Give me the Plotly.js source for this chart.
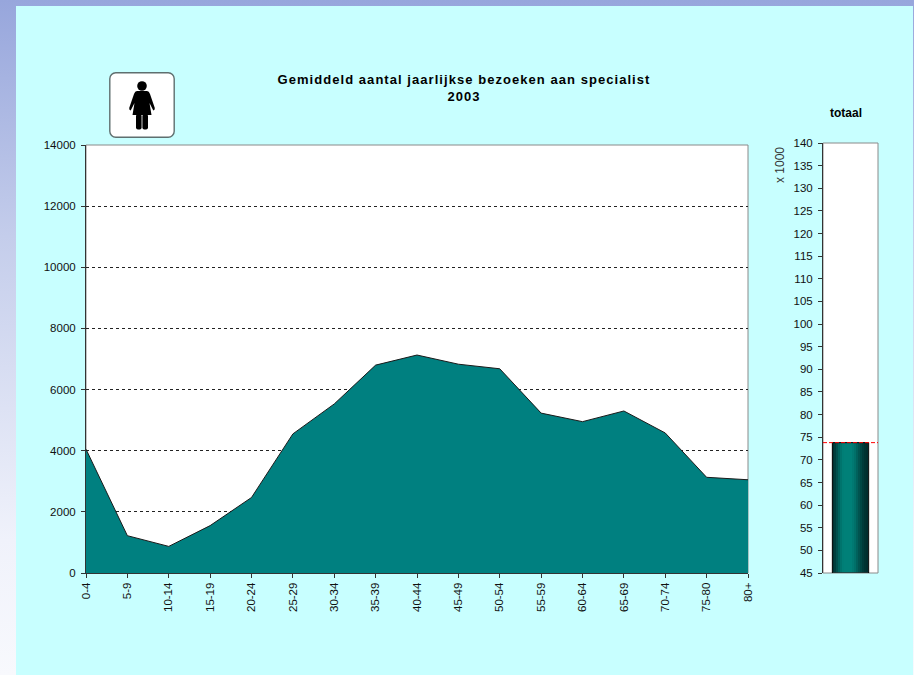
<!DOCTYPE html>
<html>
<head>
<meta charset="utf-8">
<script src="https://cdn.plot.ly/plotly-3.0.1.min.js"></script>
<style>
html,body{margin:0;padding:0;width:914px;height:675px;overflow:hidden;background:linear-gradient(to bottom,#97a6dc 0%,#c4cdeb 35%,#f0f2fb 80%,#f8f9fd 100%);}
#chart{position:absolute;left:16px;top:6px;width:897px;height:669px;}
.gtitle{letter-spacing:1.05px;}
</style>
</head>
<body>
<div id="chart"></div>
<script>
var ageGroups = ["0-4","5-9","10-14","15-19","20-24","25-29","30-34","35-39","40-44","45-49","50-54","55-59","60-64","65-69","70-74","75-80","80+"];
var visits = [4050,1220,870,1550,2470,4550,5530,6800,7130,6830,6680,5230,4950,5300,4580,3130,3050];
var totalLabel = "totaal";
var totalThousands = 73.8;
var leftTicks = [0,2000,4000,6000,8000,10000,12000,14000];
var rightTicks = [45,50,55,60,65,70,75,80,85,90,95,100,105,110,115,120,125,130,135,140];
var titleText = "Gemiddeld aantal jaarlijkse bezoeken aan specialist<br>2003";

var W = 897, H = 669, OX = 16, OY = 6;
function px(x){ return (x-OX)/W; }
function py(y){ return 1-(y-OY)/H; }

var barHalf = 0.33;
var shades = [0.05,0.2,0.42,0.65,0.85,0.97,1,1,1,1,0.92,0.8,0.62,0.45,0.3,0.16,0.06,0];
var gradEdges = shades.map(function(s,i){ return -barHalf + 2*barHalf*i/shades.length; });
gradEdges.push(barHalf);

var font = "'Liberation Sans', Arial, sans-serif";
var tickFont = {family:font, size:11.5, color:"#111"};
var iconSvg = '<svg xmlns="http://www.w3.org/2000/svg" width="66" height="66" viewBox="0 0 66 66">'
 + '<rect x="0.8" y="0.8" width="64.4" height="64.4" rx="6" fill="#fff" stroke="#5f6f6f" stroke-width="1.4"/>'
 + '<g fill="#000"><circle cx="33" cy="14" r="4.8"/>'
 + '<path d="M28 19 H38 Q40 19 41 22 L45.8 36 Q46 38 44.3 38.5 L40.5 31 L42.5 43 H23.5 L25.5 31 L21.7 38.5 Q20 38 20.2 36 L25 22 Q26 19 28 19 Z"/>'
 + '<rect x="27" y="42" width="5.6" height="15.5" rx="2"/><rect x="33.4" y="42" width="5.6" height="15.5" rx="2"/></g></svg>';

var traces = [
  {type:"scatter", mode:"lines", x:ageGroups, y:visits, fill:"tozeroy", fillcolor:"#008080",
   line:{color:"#1a1a1a", width:1}, xaxis:"x", yaxis:"y", hoverinfo:"x+y", showlegend:false},
  {type:"heatmap", x:gradEdges, y:[45,totalThousands], z:[shades], xaxis:"x2", yaxis:"y2", showscale:false, hoverinfo:"skip",
   zmin:0, zmax:1, colorscale:[[0,"#012e2e"],[1,"#008078"]]},
  {type:"bar", x:[0], y:[totalThousands-45], base:[45], width:[2*barHalf], xaxis:"x2", yaxis:"y2", showlegend:false,
   marker:{color:"rgba(0,0,0,0)", line:{color:"#000", width:1}}, name:totalLabel}
];

var layout = {
  width:W, height:H, autosize:false,
  margin:{l:0,r:0,t:0,b:0},
  paper_bgcolor:"#c8ffff", plot_bgcolor:"#ffffff",
  font:{family:font, size:11, color:"#111"},
  showlegend:false,
  title:{text:titleText, font:{family:font, size:13, color:"#000", weight:"bold"}, x:px(464), xanchor:"center", xref:"paper", y:py(84), yanchor:"middle", yref:"container"},
  xaxis:{domain:[px(86),px(748)], anchor:"y", type:"category", range:[0,16], categoryorder:"array", categoryarray:ageGroups,
    tickangle:-90, ticks:"outside", ticklen:4, tickcolor:"#333", tickwidth:1, showgrid:false, showline:true, linecolor:"#333", linewidth:1, zeroline:false,
    tickfont:tickFont, automargin:false},
  yaxis:{domain:[py(573),py(145)], anchor:"x", range:[0,14000], tickvals:leftTicks, ticktext:leftTicks.map(String),
    ticks:"outside", ticklen:4, tickcolor:"#333", showline:true, linecolor:"#333", linewidth:1, zeroline:false,
    showgrid:true, gridcolor:"#222", griddash:"3px,3px", gridwidth:1, tickfont:tickFont, ticklabelstandoff:3, automargin:false},
  xaxis2:{domain:[px(823),px(878)], anchor:"y2", range:[-0.5,0.5], showticklabels:false, ticks:"", showgrid:false, zeroline:false, showline:false},
  yaxis2:{domain:[py(573),py(143)], anchor:"x2", range:[45,140], tickvals:rightTicks, ticktext:rightTicks.map(String),
    ticks:"outside", ticklen:4, tickcolor:"#333", showline:true, linecolor:"#333", linewidth:1, zeroline:false, showgrid:false,
    tickfont:tickFont, ticklabelstandoff:3, automargin:false},
  shapes:[
    {type:"rect", xref:"x domain", yref:"y domain", x0:0,x1:1,y0:0,y1:1, line:{color:"#8a8a8a",width:1}, fillcolor:"rgba(0,0,0,0)", layer:"below"},
    {type:"rect", xref:"x2 domain", yref:"y2 domain", x0:0,x1:1,y0:0,y1:1, line:{color:"#8a8a8a",width:1}, fillcolor:"rgba(0,0,0,0)", layer:"below"},
    {type:"line", xref:"x2 domain", yref:"y2", x0:0,x1:1,y0:totalThousands,y1:totalThousands, line:{color:"#ff0000",width:1,dash:"4px,2px"}, layer:"above"}
  ],
  annotations:[
    {text:"<b>"+totalLabel+"</b>", xref:"paper", yref:"paper", x:px(846), y:py(113), showarrow:false, xanchor:"center", yanchor:"middle", font:{family:font,size:12,color:"#000"}},
    {text:"x 1000", xref:"paper", yref:"paper", x:px(780), y:py(165), showarrow:false, textangle:-90, xanchor:"center", yanchor:"middle", font:{family:font,size:12,color:"#333"}}
  ],
  images:[{source:"data:image/svg+xml;utf8,"+encodeURIComponent(iconSvg), xref:"paper", yref:"paper", x:px(109), y:py(72), sizex:66/W, sizey:66/H, sizing:"stretch", xanchor:"left", yanchor:"top", layer:"above"}]
};
Plotly.newPlot("chart", traces, layout, {displayModeBar:false, staticPlot:true});
</script>
</body>
</html>
